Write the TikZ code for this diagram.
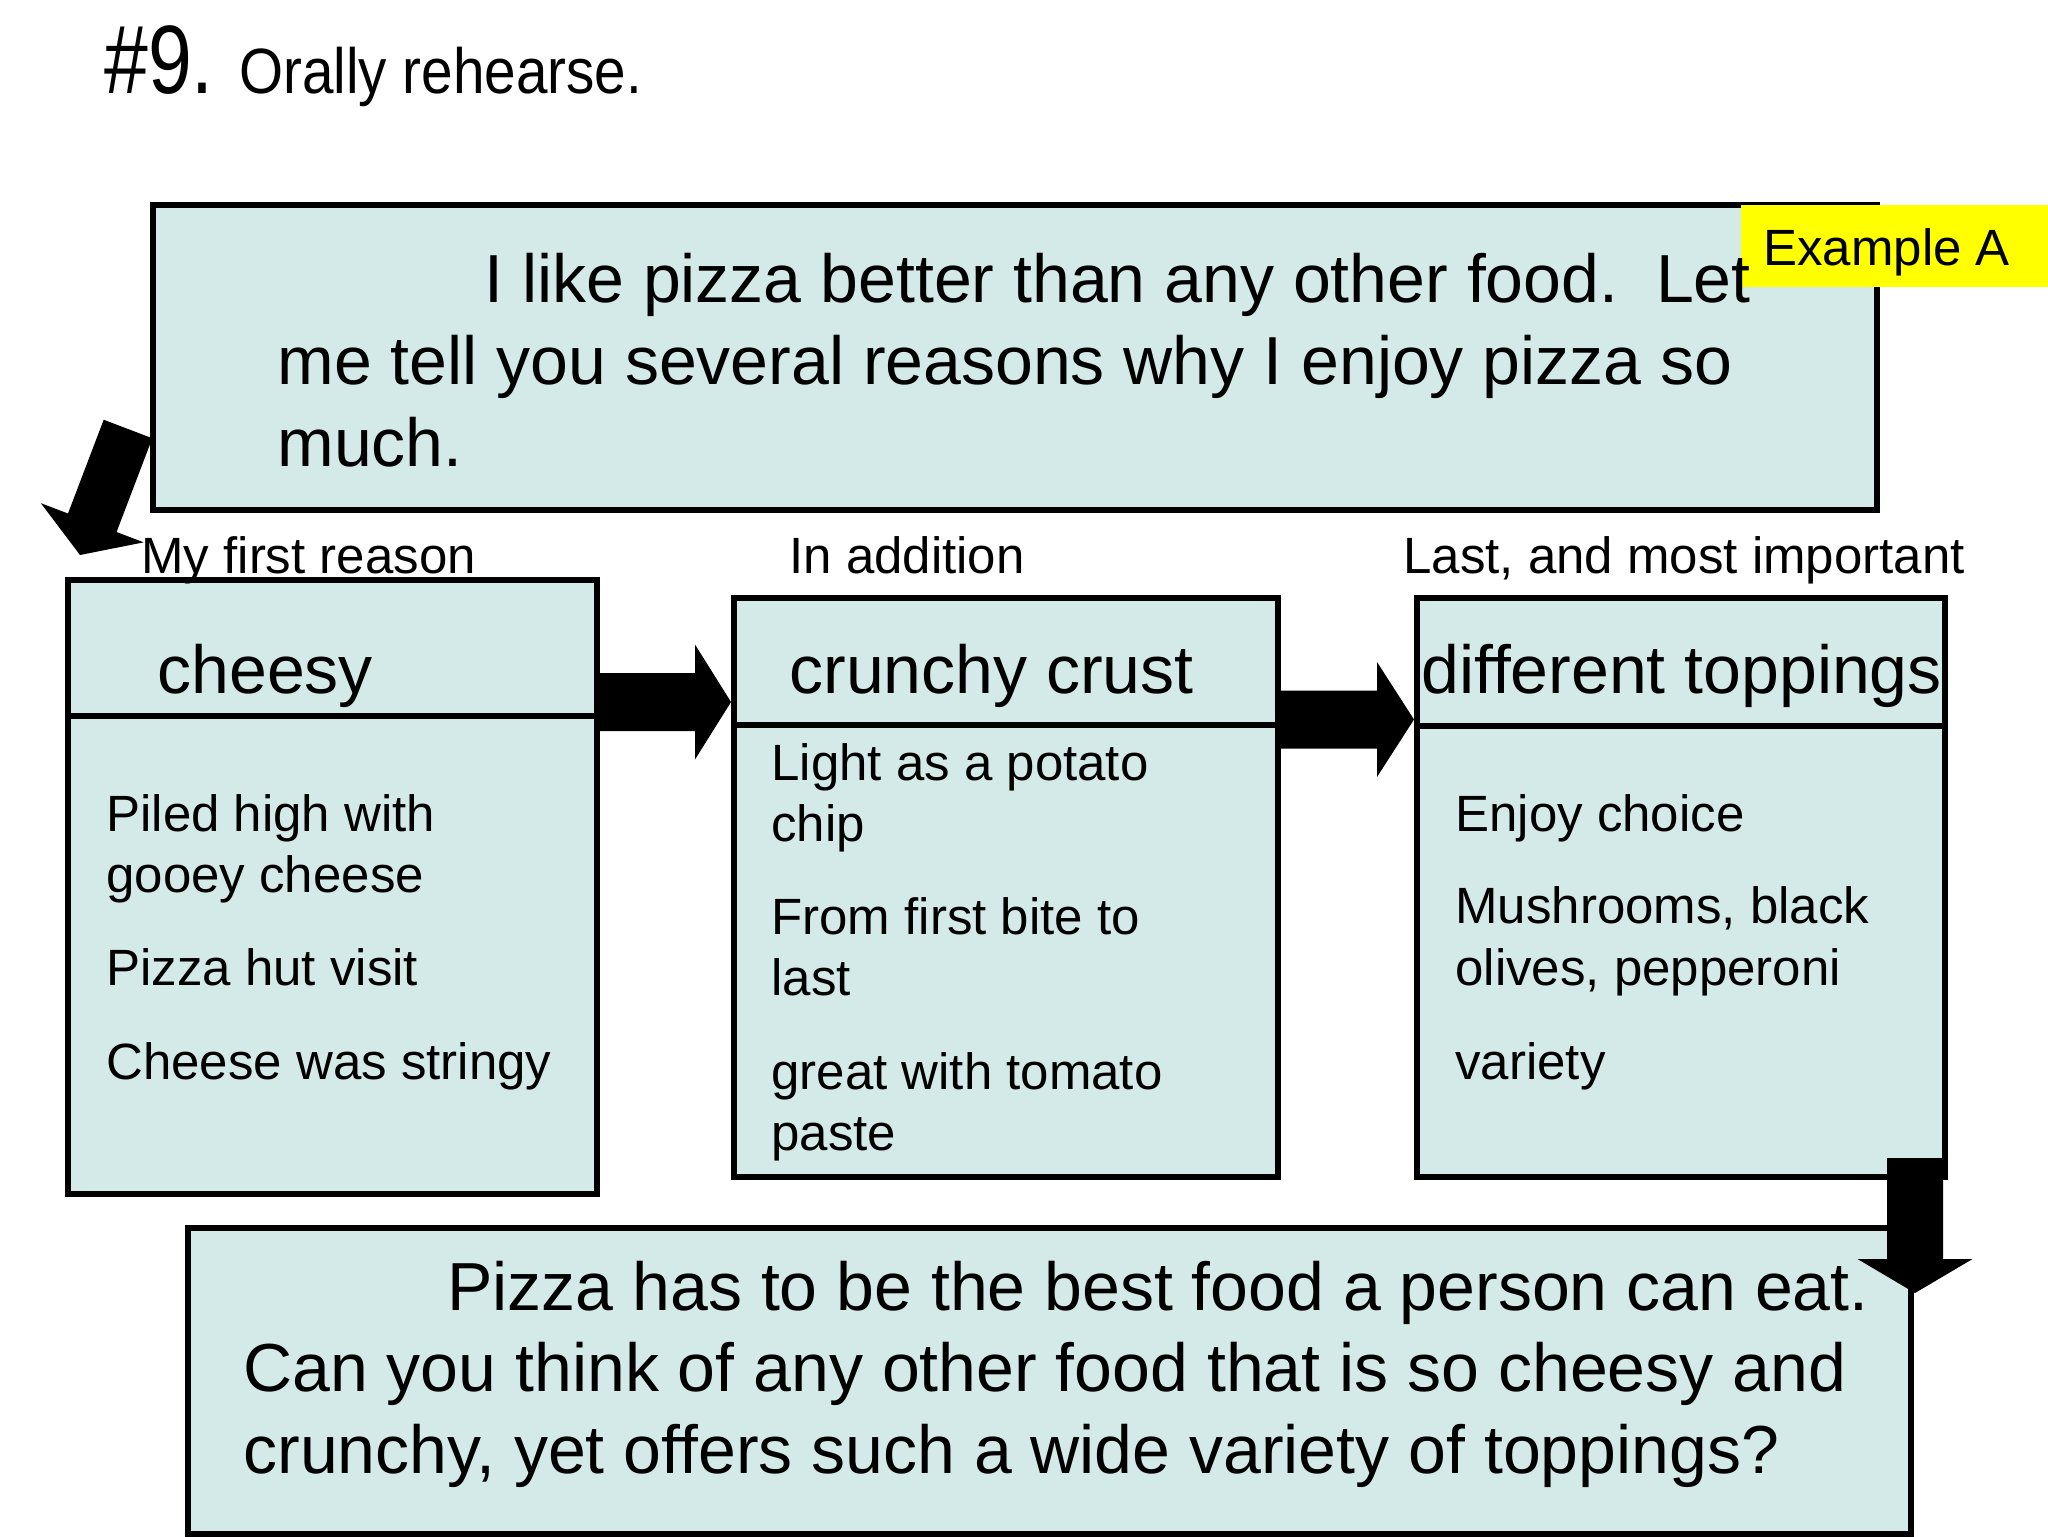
\documentclass[tikz,border=0pt]{standalone}
\usepackage{fontspec}
\setmainfont{Liberation Sans}
\newfontfamily\narrowA[FakeStretch=0.81]{Liberation Sans}
\newfontfamily\narrowB[FakeStretch=0.885]{Liberation Sans}
\usetikzlibrary{calc,fit}
\definecolor{boxfill}{RGB}{211,234,232}
\definecolor{tagyellow}{RGB}{255,255,0}
% #1 start, #2 tip, #3 shaft half width, #4 head half width, #5 head length
\newcommand\blockarrow[5]{%
  \coordinate (ba-h) at ($(#2)!#5!(#1)$);
  \fill ($(#1)!#3!90:(#2)$) -- ($(ba-h)!#3!-90:(#1)$) -- ($(ba-h)!#4!-90:(#1)$) -- (#2)
    -- ($(ba-h)!#4!90:(#1)$) -- ($(ba-h)!#3!90:(#1)$) -- ($(#1)!#3!-90:(#2)$) -- cycle;}
\begin{document}
\begin{tikzpicture}[x=0.5pt,y=-0.5pt,
  box/.style={draw=black, line width=3pt, fill=boxfill, inner sep=0pt},
  divider/.style={draw=black, line width=3pt},
  big/.style={anchor=base west, inner sep=0pt, font=\fontsize{34}{40}\selectfont},
  small/.style={anchor=base west, inner sep=0pt, font=\fontsize{25.5}{30}\selectfont},
]
\useasboundingbox (0,0) rectangle (2048,1536);
\fill[white] (0,0) rectangle (2048,1536);

% title
\node[anchor=base west, inner sep=0pt, font=\narrowA\fontsize{48.6}{56}\selectfont] (num) at (104,94) {\#9.};
\node[anchor=base west, inner sep=0pt, font=\narrowB\fontsize{32}{38}\selectfont] (title) at (239,94) {Orally rehearse.};

% boxes
\node[box, fit={(153,205)(1877,510)}] (top) {};
\node[box, fit={(68,580)(597,1194)}] (b1) {};
\node[box, fit={(734,598)(1278,1177)}] (b2) {};
\node[box, fit={(1417,598)(1945,1177)}] (b3) {};
\node[box, fit={(188,1228)(1911,1534)}] (bot) {};

\draw[divider] (b1.west |- 0,716) -- (b1.east |- 0,716);
\draw[divider] (b2.west |- 0,725) -- (b2.east |- 0,725);
\draw[divider] (b3.west |- 0,726) -- (b3.east |- 0,726);

% tag
\node[fill=tagyellow, inner sep=0pt, fit={(1741,205)(2048,287)}] (tag) {};
\node[small] (tagtext) at (1763,265) {Example A};

% top box text
\node[big] (t1) at (484,302) {I like pizza better than any other food.\ \ Let};
\node[big] (t2) at (277,384) {me tell you several reasons why I enjoy pizza so};
\node[big] (t3) at (277,466) {much.};

% labels
\node[small] (l1) at (141,573) {My first reason};
\node[small] (l2) at (789,573) {In addition};
\node[small] (l3) at (1403,573) {Last, and most important};

% headers
\node[big] (h1) at (157,693) {cheesy};
\node[big] (h2) at (789,693) {crunchy crust};
\node[big] (h3) at (1421,693) {different toppings};

% box 1 body
\node[small] (p1a) at (106,831) {Piled high with};
\node[small] (p1b) at (106,892) {gooey cheese};
\node[small] (p1c) at (106,985) {Pizza hut visit};
\node[small] (p1d) at (106,1079) {Cheese was stringy};

% box 2 body
\node[small] (p2a) at (771,780) {Light as a potato};
\node[small] (p2b) at (771,841) {chip};
\node[small] (p2c) at (771,934) {From first bite to};
\node[small] (p2d) at (771,995) {last};
\node[small] (p2e) at (771,1089) {great with tomato};
\node[small] (p2f) at (771,1150) {paste};

% box 3 body
\node[small] (p3a) at (1455,831) {Enjoy choice};
\node[small] (p3b) at (1455,923) {Mushrooms, black};
\node[small] (p3c) at (1455,985) {olives, pepperoni};
\node[small] (p3d) at (1455,1079) {variety};

% bottom text
\node[big] (c1) at (447,1310) {Pizza has to be the best food a person can eat.};
\node[big] (c2) at (243,1391) {Can you think of any other food that is so cheesy and};
\node[big] (c3) at (243,1473) {crunchy, yet offers such a wide variety of toppings?};

% block arrows
\coordinate (aAs) at (b1.east |- 0,702);
\coordinate (aAt) at (b2.west |- 0,702);
\blockarrow{aAs}{aAt}{14.5pt}{28.75pt}{18pt}
\coordinate (aBs) at (b2.east |- 0,719.5);
\coordinate (aBt) at (b3.west |- 0,719.5);
\blockarrow{aBs}{aBt}{14.5pt}{28.75pt}{18.5pt}
\coordinate (aCs) at (1915,1158);
\coordinate (aCt) at (1915,1293);
\blockarrow{aCs}{aCt}{14pt}{28.75pt}{17pt}
\coordinate (aDs) at (128,429);
\coordinate (aDt) at (80,555);
\blockarrow{aDs}{aDt}{13pt}{27.5pt}{17.25pt}
\end{tikzpicture}
\end{document}
